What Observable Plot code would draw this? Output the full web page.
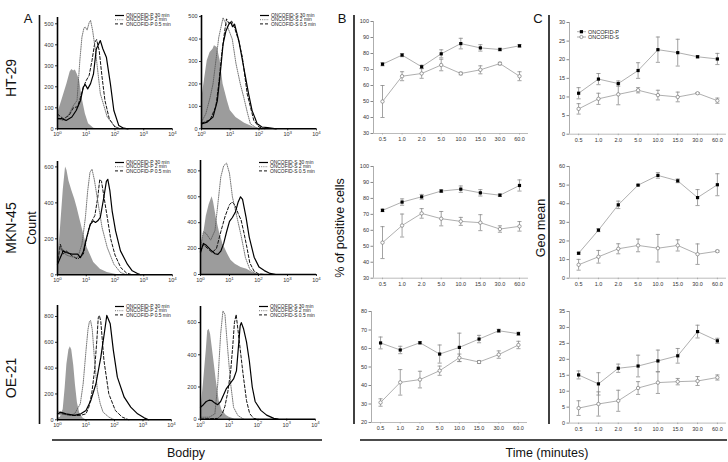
<!DOCTYPE html>
<html><head><meta charset="utf-8">
<script src="https://cdn.jsdelivr.net/npm/d3@7"></script>
<script src="https://cdn.jsdelivr.net/npm/@observablehq/plot@0.6"></script>
<style>
body{margin:0;background:#fff;}
#fig{position:relative;width:728px;height:462px;overflow:hidden;font-family:"Liberation Sans",Arial,sans-serif;background:#fff;}
.lbl{position:absolute;white-space:nowrap;color:#111;line-height:1;}
.rot{transform:translate(-50%,-50%) rotate(-90deg);}
</style></head><body><div id="fig"></div>
<script>
// ---------- DATA ----------
const times = ["0.5","1.0","2.0","5.0","10.0","15.0","30.0","60.0"];
const rowNames = ["HT-29","MKN-45","OE-21"];
const drugs = ["ONCOFID-P","ONCOFID-S"];
const durations = ["30 min","2 min","0.5 min"];

// % of positive cells (panel B)
const ht29PctP = [73.3, 79.0, 71.7, 79.8, 86.2, 83.5, 82.5, 84.8];
const ht29PctPErr = [1.0, 1.0, 1.0, 2.5, 3.3, 2.0, 0.8, 0.8];
const ht29PctS = [50.0, 65.8, 67.5, 72.8, 67.5, 69.8, 73.7, 65.8];
const ht29PctSErr = [10.0, 2.8, 3.0, 3.6, 0.8, 2.5, 0.8, 2.8];
const mknPctP = [72.5, 77.7, 81.0, 84.6, 85.8, 83.5, 82.0, 88.1];
const mknPctPErr = [0.8, 2.0, 1.5, 0.8, 2.0, 2.0, 0.8, 3.5];
const mknPctS = [52.3, 63.0, 70.6, 67.3, 65.6, 64.8, 60.8, 62.5];
const mknPctSErr = [10.0, 7.2, 3.0, 4.5, 2.5, 5.0, 2.0, 3.0];
const oePctP = [63.0, 59.2, 63.1, 57.0, 60.6, 65.1, 69.6, 68.0];
const oePctPErr = [3.2, 2.0, 0.6, 4.9, 7.7, 2.0, 0.8, 0.8];
const oePctS = [30.8, 41.7, 43.2, 48.0, 55.0, 52.7, 56.7, 61.9];
const oePctSErr = [2.0, 6.9, 4.5, 2.5, 2.0, 0.8, 2.0, 2.0];

// Geo mean (panel C)
const ht29GeoP = [11.0, 14.8, 13.6, 17.1, 22.7, 21.9, 20.8, 20.2];
const ht29GeoPErr = [1.5, 1.5, 0.7, 2.1, 3.4, 3.6, 0.3, 1.5];
const ht29GeoS = [6.8, 9.5, 10.7, 11.8, 10.5, 10.0, 11.0, 9.0];
const ht29GeoSErr = [1.4, 1.5, 2.8, 0.7, 1.3, 1.3, 0.2, 0.7];
const mknGeoP = [13.4, 25.8, 39.4, 50.0, 55.2, 52.3, 43.3, 50.2];
const mknGeoPErr = [0.5, 0.8, 2.0, 0.3, 1.5, 1.0, 4.3, 5.9];
const mknGeoS = [7.2, 11.5, 15.8, 17.6, 16.1, 17.6, 12.9, 14.5];
const mknGeoSErr = [2.9, 3.4, 2.7, 3.4, 7.4, 3.0, 5.5, 0.5];
const oeGeoP = [15.1, 12.3, 17.2, 17.9, 19.5, 21.1, 28.7, 25.8];
const oeGeoPErr = [1.25, 3.5, 1.3, 3.4, 3.4, 2.3, 2.0, 0.8];
const oeGeoS = [4.7, 6.0, 7.0, 11.0, 12.7, 13.0, 13.2, 14.3];
const oeGeoSErr = [2.3, 3.8, 3.3, 2.0, 3.4, 1.0, 1.4, 0.8];

// Histograms (panel A): [log10 Bodipy, count]
const ht29P_ctrl = [[0,70],[0.15,135],[0.33,215],[0.44,270],[0.5,282],[0.56,275],[0.62,280],[0.68,262],[0.77,230],[0.85,150],[0.97,70],[1.08,24],[1.26,3],[1.38,0]];
const ht29P_2 = [[0,48],[0.2,40],[0.4,70],[0.55,110],[0.68,135],[0.78,330],[0.85,437],[0.92,480],[0.97,484],[1.03,470],[1.1,505],[1.15,516],[1.22,470],[1.32,373],[1.49,167],[1.73,56],[1.96,16],[2.15,0]];
const ht29P_05 = [[0,70],[0.2,48],[0.4,63],[0.55,100],[0.7,105],[0.8,150],[0.9,198],[1.0,230],[1.1,254],[1.2,325],[1.3,413],[1.36,425],[1.45,373],[1.55,246],[1.65,135],[1.8,48],[2.0,8],[2.2,0]];
const ht29P_30 = [[0,48],[0.15,48],[0.3,40],[0.5,56],[0.65,87],[0.8,135],[0.9,200],[0.97,210],[1.05,190],[1.15,215],[1.25,260],[1.35,380],[1.42,400],[1.49,420],[1.58,380],[1.7,341],[1.84,214],[1.96,87],[2.13,16],[2.3,3],[2.45,0]];

const ht29S_ctrl = [[0,125],[0.1,215],[0.2,303],[0.3,340],[0.4,355],[0.45,370],[0.55,362],[0.65,303],[0.75,200],[0.9,125],[1.0,81],[1.2,50],[1.5,25],[1.8,8],[2.0,0]];
const ht29S_2 = [[0,30],[0.15,67],[0.3,140],[0.4,200],[0.5,303],[0.6,407],[0.7,466],[0.75,495],[0.8,480],[0.85,470],[0.95,440],[1.07,400],[1.2,290],[1.35,200],[1.47,140],[1.6,70],[1.7,22],[1.9,5],[2.1,0]];
const ht29S_05 = [[0,25],[0.3,40],[0.5,100],[0.6,200],[0.7,330],[0.8,430],[0.87,490],[0.95,470],[1.05,480],[1.15,450],[1.3,390],[1.42,320],[1.59,155],[1.82,37],[2.0,8],[2.2,0]];
const ht29S_30 = [[0,22],[0.2,30],[0.4,52],[0.55,125],[0.65,244],[0.75,377],[0.85,436],[0.95,466],[1.02,475],[1.08,455],[1.15,466],[1.3,392],[1.47,273],[1.64,155],[1.76,81],[1.94,22],[2.1,8],[2.3,5],[2.6,0]];

const mknP_ctrl = [[0,60],[0.1,250],[0.2,470],[0.28,600],[0.33,580],[0.4,520],[0.5,467],[0.6,420],[0.68,374],[0.85,263],[1.03,152],[1.26,69],[1.49,31],[1.73,13],[1.96,4],[2.1,0]];
const mknP_2 = [[0,78],[0.1,150],[0.2,140],[0.3,110],[0.5,100],[0.7,95],[0.85,170],[0.97,318],[1.05,467],[1.13,570],[1.2,587],[1.28,530],[1.38,430],[1.55,263],[1.73,152],[1.96,59],[2.19,13],[2.4,0]];
const mknP_05 = [[0,59],[0.1,170],[0.2,115],[0.3,133],[0.5,106],[0.7,87],[0.9,115],[1.0,189],[1.1,263],[1.2,300],[1.3,330],[1.4,430],[1.47,531],[1.53,520],[1.65,400],[1.75,300],[1.85,200],[2.0,110],[2.2,40],[2.4,10],[2.6,0]];
const mknP_30 = [[0,59],[0.1,96],[0.2,133],[0.3,124],[0.5,115],[0.7,115],[0.8,96],[0.9,130],[1.0,200],[1.14,281],[1.25,300],[1.32,291],[1.4,300],[1.49,320],[1.6,420],[1.7,520],[1.75,531],[1.82,470],[1.9,356],[2.02,244],[2.19,133],[2.43,59],[2.6,22],[2.78,7],[2.9,0]];

const mknS_ctrl = [[0,190],[0.1,300],[0.2,450],[0.3,540],[0.4,600],[0.45,560],[0.55,430],[0.65,330],[0.77,237],[0.93,160],[1.05,110],[1.2,80],[1.4,55],[1.6,40],[1.8,15],[2.0,0]];
const mknS_2 = [[0,212],[0.1,330],[0.2,315],[0.35,265],[0.5,340],[0.6,547],[0.7,753],[0.8,840],[0.9,860],[1.0,780],[1.1,600],[1.25,450],[1.4,300],[1.55,130],[1.7,40],[1.9,5],[2.05,0]];
const mknS_05 = [[0,180],[0.1,230],[0.25,200],[0.4,170],[0.55,200],[0.7,330],[0.85,450],[1.0,540],[1.1,560],[1.2,530],[1.3,470],[1.4,420],[1.5,320],[1.6,210],[1.7,90],[1.85,25],[2.0,5],[2.2,0]];
const mknS_30 = [[0,170],[0.1,240],[0.2,225],[0.35,190],[0.5,160],[0.6,155],[0.7,180],[0.8,240],[0.9,330],[1.0,410],[1.1,440],[1.2,480],[1.3,560],[1.38,600],[1.45,580],[1.57,443],[1.68,289],[1.85,134],[2.02,57],[2.2,30],[2.4,8],[2.6,0]];

const oeP_ctrl = [[0,10],[0.1,20],[0.2,80],[0.27,250],[0.33,430],[0.4,540],[0.45,565],[0.5,540],[0.57,420],[0.63,270],[0.7,130],[0.78,50],[0.9,12],[1.0,0]];
const oeP_2 = [[0,72],[0.15,46],[0.4,34],[0.6,46],[0.8,124],[0.9,279],[1.0,537],[1.07,700],[1.12,760],[1.16,769],[1.22,700],[1.3,459],[1.4,227],[1.5,124],[1.6,59],[1.8,21],[2.0,0]];
const oeP_05 = [[0,46],[0.2,46],[0.5,34],[0.8,34],[1.0,46],[1.1,98],[1.2,201],[1.3,382],[1.38,614],[1.43,790],[1.47,808],[1.52,760],[1.63,459],[1.8,201],[2.03,72],[2.27,21],[2.5,0]];
const oeP_30 = [[0,46],[0.1,59],[0.3,46],[0.6,34],[0.82,46],[1.0,72],[1.17,150],[1.35,279],[1.52,485],[1.64,666],[1.73,808],[1.85,743],[1.96,537],[2.1,330],[2.34,175],[2.57,98],[2.81,46],[3.04,15],[3.2,0]];

const oeS_ctrl = [[0,33],[0.1,218],[0.2,425],[0.25,548],[0.3,558],[0.35,528],[0.45,384],[0.55,239],[0.65,115],[0.75,54],[0.9,23],[1.0,12],[1.2,0]];
const oeS_2 = [[0,12],[0.3,12],[0.5,33],[0.6,218],[0.7,528],[0.78,672],[0.85,651],[0.95,425],[1.05,218],[1.15,74],[1.3,23],[1.5,0]];
const oeS_05 = [[0,0],[0.6,5],[0.75,30],[0.85,80],[0.95,170],[1.05,300],[1.12,450],[1.18,600],[1.24,650],[1.3,560],[1.36,467],[1.48,281],[1.6,116],[1.71,35],[1.85,5],[2.0,0]];
const oeS_30 = [[0,74],[0.1,90],[0.2,110],[0.3,118],[0.4,115],[0.5,100],[0.6,90],[0.7,110],[0.8,150],[0.9,190],[1.0,215],[1.15,250],[1.25,300],[1.32,450],[1.38,580],[1.42,600],[1.5,560],[1.6,480],[1.7,360],[1.8,200],[1.9,110],[2.1,55],[2.3,25],[2.55,5],[2.7,0]];

const decadeTicks = [1, 10, 100, 1000, 10000];

// ---------- LAYOUT ----------
const fig = document.getElementById("fig");
const FONT = "Liberation Sans, Arial, sans-serif";

const histLayout = [
  {left:57, right:172, top:17, bottom:128.3, ymax:530, yticks:[0,100,200,300,400,500], drug:0, legX:115, legY:15.5, series:[ht29P_ctrl,ht29P_30,ht29P_2,ht29P_05]},
  {left:201, right:316, top:15, bottom:128.3, ymax:505, yticks:[0,100,200,300,400,500], drug:1, legX:260, legY:15.5, series:[ht29S_ctrl,ht29S_30,ht29S_2,ht29S_05]},
  {left:57, right:172, top:160.7, bottom:274, ymax:630, yticks:[0,200,400,600], drug:0, legX:115, legY:162.5, series:[mknP_ctrl,mknP_30,mknP_2,mknP_05]},
  {left:200, right:316, top:160, bottom:274, ymax:880, yticks:[0,200,400,600,800], drug:1, legX:259, legY:162.5, series:[mknS_ctrl,mknS_30,mknS_2,mknS_05]},
  {left:57, right:171, top:305, bottom:419.3, ymax:885, yticks:[0,200,400,600,800], drug:0, legX:115, legY:306.5, series:[oeP_ctrl,oeP_30,oeP_2,oeP_05]},
  {left:200, right:315, top:306, bottom:418.7, ymax:700, yticks:[0,200,400,600], drug:1, legX:259, legY:306.5, series:[oeS_ctrl,oeS_30,oeS_2,oeS_05]}
];
const lineStyles = [
  {stroke:"#000", strokeWidth:1.2, strokeDasharray:null},
  {stroke:"#555", strokeWidth:0.8, strokeDasharray:"1,1.2"},
  {stroke:"#111", strokeWidth:1, strokeDasharray:"3,2"}
];

const xDom = [-0.46, 7.46];
const lineLayout = [
  {left:373, right:528, top:21, bottom:133, ydomain:[30,100], yticks:d3.range(30,101,10), P:ht29PctP, Pe:ht29PctPErr, S:ht29PctS, Se:ht29PctSErr},
  {left:373, right:528, top:166, bottom:277.7, ydomain:[30,100], yticks:d3.range(30,101,10), P:mknPctP, Pe:mknPctPErr, S:mknPctS, Se:mknPctSErr},
  {left:371, right:527, top:310.7, bottom:421.7, ydomain:[20,80], yticks:d3.range(20,81,10), P:oePctP, Pe:oePctPErr, S:oePctS, Se:oePctSErr},
  {left:569, right:726, top:22.3, bottom:134, ydomain:[0,30], yticks:d3.range(0,31,5), P:ht29GeoP, Pe:ht29GeoPErr, S:ht29GeoS, Se:ht29GeoSErr},
  {left:569, right:726, top:166, bottom:277.7, ydomain:[0,60], yticks:d3.range(0,61,10), P:mknGeoP, Pe:mknGeoPErr, S:mknGeoS, Se:mknGeoSErr},
  {left:569, right:726, top:310.7, bottom:422.3, ydomain:[0,35], yticks:d3.range(0,36,5), P:oeGeoP, Pe:oeGeoPErr, S:oeGeoS, Se:oeGeoSErr}
];

function place(svg, left, top) {
  svg.style.position = "absolute";
  svg.style.left = left + "px";
  svg.style.top = top + "px";
  fig.appendChild(svg);
}

// ---------- HISTOGRAMS ----------
histLayout.forEach(f => {
  const ml = 24, mr = 8, mt = 4, mb = 14;
  const W = f.right - f.left + ml + mr, H = f.bottom - f.top + mt + mb;
  const rows = arr => arr.map(([e, c]) => ({x: Math.pow(10, e), y: c}));
  const [ctrl, s30, s2, s05] = f.series;
  const chart = Plot.plot({
    width: W, height: H, marginLeft: ml, marginRight: mr, marginTop: mt, marginBottom: mb,
    style: {background: "transparent", fontFamily: FONT, fontSize: "5.5px", color: "#333", overflow: "visible"},
    x: {type: "log", domain: [1, 1e4], label: null},
    y: {domain: [0, f.ymax], label: null},
    marks: [
      Plot.areaY(rows(ctrl), {x: "x", y: "y", fill: "#9c9c9c"}),
      Plot.lineY(rows(s05), {x: "x", y: "y", ...lineStyles[2]}),
      Plot.lineY(rows(s2), {x: "x", y: "y", ...lineStyles[1]}),
      Plot.lineY(rows(s30), {x: "x", y: "y", ...lineStyles[0]}),
      Plot.axisX({ticks: decadeTicks, label: null, tickSize: 2, tickPadding: 1.5, tickFormat: d => String(Math.round(Math.log10(d)))}),
      Plot.axisY({ticks: f.yticks, label: null, tickSize: 2, tickPadding: 2, tickFormat: d => String(d)}),
      Plot.ruleX([1], {stroke: "#000", strokeWidth: 1.6}),
      Plot.ruleY([0], {stroke: "#000", strokeWidth: 1.6})
    ]
  });
  d3.select(chart).selectAll('g[aria-label="x-axis tick label"] text').each(function() {
    const e = this.textContent;
    const t = d3.select(this);
    t.text("");
    t.append("tspan").text("10");
    t.append("tspan").attr("dy", "-0.5em").attr("font-size", "0.8em").text(e);
  });
  place(chart, f.left - ml, f.top - mt);
});

// ---------- LINE CHARTS ----------
const cap = {draw(ctx, size) { const w = Math.sqrt(size) * 0.9; ctx.moveTo(-w, 0); ctx.lineTo(w, 0); }};
lineLayout.forEach(f => {
  const ml = 20, mr = 4, mt = 4, mb = 14;
  const W = f.right - f.left + ml + mr, H = f.bottom - f.top + mt + mb;
  const rows = (v, e) => v.map((d, i) => ({i, v: d, lo: d - e[i], hi: d + e[i]}));
  const P = rows(f.P, f.Pe), S = rows(f.S, f.Se);
  const eb = (data) => [
    Plot.ruleX(data, {x: "i", y1: "lo", y2: "hi", stroke: "#8a8a8a", strokeWidth: 0.8}),
    Plot.dot(data, {x: "i", y: "lo", symbol: cap, r: 1.3, stroke: "#8a8a8a", fill: "none", strokeWidth: 0.8}),
    Plot.dot(data, {x: "i", y: "hi", symbol: cap, r: 1.3, stroke: "#8a8a8a", fill: "none", strokeWidth: 0.8})
  ];
  const chart = Plot.plot({
    width: W, height: H, marginLeft: ml, marginRight: mr, marginTop: mt, marginBottom: mb,
    style: {background: "transparent", fontFamily: FONT, fontSize: "5.5px", color: "#333", overflow: "visible"},
    x: {domain: xDom, label: null},
    y: {domain: f.ydomain, label: null},
    marks: [
      ...eb(S), ...eb(P),
      Plot.line(S, {x: "i", y: "v", stroke: "#9a9a9a", strokeWidth: 0.8}),
      Plot.line(P, {x: "i", y: "v", stroke: "#9a9a9a", strokeWidth: 0.8}),
      Plot.dot(S, {x: "i", y: "v", r: 1.7, fill: "white", stroke: "#777", strokeWidth: 0.7}),
      Plot.dot(P, {x: "i", y: "v", symbol: "square", r: 1.8, fill: "#000", stroke: "none"}),
      Plot.axisX({ticks: d3.range(times.length), label: null, tickFormat: i => times[i], tickSize: 1.5, tickPadding: 2.5, stroke: "#aaa"}),
      Plot.axisY({ticks: f.yticks, label: null, tickSize: 2.5, tickPadding: 2, tickFormat: d => String(d), stroke: "#888"}),
      Plot.ruleX([xDom[0]], {stroke: "#999", strokeWidth: 0.8}),
      Plot.ruleY([f.ydomain[0]], {stroke: "#aaa", strokeWidth: 0.8})
    ]
  });
  place(chart, f.left - ml, f.top - mt);
});

// ---------- DECORATION / LEGENDS ----------
const deco = d3.select(fig).append("svg").attr("width", 728).attr("height", 462)
  .style("position", "absolute").style("left", "0px").style("top", "0px").style("pointer-events", "none");
const lines = [
  [39.5, 15, 39.5, 424], [354, 15, 354, 424], [549, 15, 549, 424],
  [52, 440, 322, 440], [360, 440, 727, 440]
];
lines.forEach(([x1, y1, x2, y2]) => deco.append("line").attr("x1", x1).attr("y1", y1).attr("x2", x2).attr("y2", y2).attr("stroke", "#111").attr("stroke-width", 1.6));

histLayout.forEach(f => {
  durations.forEach((d, k) => {
    const y = f.legY + k * 4.2;
    const st = lineStyles[k];
    deco.append("line").attr("x1", f.legX).attr("x2", f.legX + 9).attr("y1", y).attr("y2", y)
      .attr("stroke", st.stroke).attr("stroke-width", st.strokeWidth).attr("stroke-dasharray", st.strokeDasharray);
    deco.append("text").attr("x", f.legX + 11).attr("y", y + 1.7).attr("font-size", 4.9).attr("font-family", FONT)
      .attr("fill", "#222").text(drugs[f.drug] + " " + d);
  });
});

// legend for panel C top
[[0, 31.7], [1, 37]].forEach(([k, y]) => {
  deco.append("line").attr("x1", 577).attr("x2", 586).attr("y1", y).attr("y2", y).attr("stroke", "#999").attr("stroke-width", 0.8);
  if (k === 0) deco.append("rect").attr("x", 579.8).attr("y", y - 1.6).attr("width", 3.2).attr("height", 3.2).attr("fill", "#000");
  else deco.append("circle").attr("cx", 581.4).attr("cy", y).attr("r", 1.6).attr("fill", "#fff").attr("stroke", "#777").attr("stroke-width", 0.7);
  deco.append("text").attr("x", 588).attr("y", y + 1.9).attr("font-size", 5.5).attr("font-family", FONT).attr("fill", "#222").text(drugs[k]);
});

// text labels
function label(text, x, y, size, rotate) {
  const d = document.createElement("div");
  d.className = "lbl" + (rotate ? " rot" : "");
  d.textContent = text;
  d.style.fontSize = size + "px";
  d.style.left = x + "px";
  d.style.top = y + "px";
  if (!rotate) d.style.transform = "translate(-50%,-50%)";
  fig.appendChild(d);
}
label("A", 28, 18, 13);
label("B", 342, 18, 13);
label("C", 538, 18, 13);
rowNames.forEach((n, i) => label(n, 11, [78, 228, 378][i], 14, true));
label("Count", 32, 228, 12.5, true);
label("% of positive cells", 340, 228, 12.5, true);
label("Geo mean", 541, 228, 12.5, true);
label("Bodipy", 186, 453, 12.5);
label("Time (minutes)", 547, 453, 12.5);
</script></body></html>
